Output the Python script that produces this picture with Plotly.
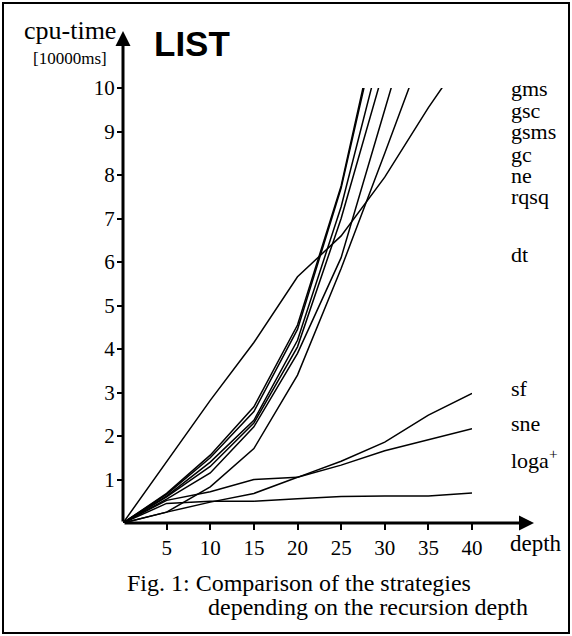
import plotly.graph_objects as go

depth = [0, 5, 10, 15, 20, 25, 30, 35, 40]

gms = [0, 0.68, 1.56, 2.67, 4.55, 7.75, 12.25]
gsc = [0, 0.66, 1.50, 2.56, 4.45, 7.70, 12.10]
gsms = [0, 0.62, 1.40, 2.36, 4.20, 7.27, 11.20]
gc = [0, 0.60, 1.30, 2.30, 4.05, 7.00, 10.50]
ne = [0, 0.55, 1.15, 2.21, 3.90, 6.10, 9.50, 12.90]
rqsq = [0, 0.25, 0.83, 1.71, 3.40, 5.85, 8.50, 11.20]
dt = [0, 1.40, 2.82, 4.15, 5.66, 6.60, 7.95, 9.55, 11.00]
sf = [0, 0.52, 0.72, 1.00, 1.05, 1.42, 1.86, 2.48, 2.98]
sne = [0, 0.25, 0.48, 0.68, 1.05, 1.33, 1.66, 1.92, 2.17]
loga = [0, 0.45, 0.50, 0.50, 0.56, 0.61, 0.62, 0.62, 0.69]

series = [gms, gsc, gsms, gc, ne, rqsq, dt, sf, sne, loga]
labels = ["gms", "gsc", "gsms", "gc", "ne", "rqsq", "dt", "sf", "sne", "loga<sup>+</sup>"]
label_y = [88, 110, 131, 154, 175, 196, 254, 388, 423, 459]  # pixel rows

xticks = [5, 10, 15, 20, 25, 30, 35, 40]
yticks = [1, 2, 3, 4, 5, 6, 7, 8, 9, 10]

W, H = 572, 636
L, R, T, B = 123, 100, 88, 113
PW, PH = W - L - R, H - T - B

def px(xp):
    return (xp - L) / PW

def py(yp):
    return (H - B - yp) / PH

serif = "Liberation Serif"

fig = go.Figure()
for s in series:
    fig.add_trace(go.Scatter(x=depth[:len(s)], y=s, mode="lines",
                             line=dict(color="black", width=1.5),
                             showlegend=False, hoverinfo="skip"))

fig.update_layout(
    width=W, height=H,
    margin=dict(l=L, r=R, t=T, b=B),
    paper_bgcolor="white", plot_bgcolor="white",
    font=dict(family=serif, color="black"),
    xaxis=dict(range=[0, 40], tickvals=xticks, ticktext=[str(v) for v in xticks],
               ticks="outside", ticklen=6, tickwidth=2, tickcolor="black",
               showgrid=False, zeroline=False, showline=False,
               tickfont=dict(family=serif, size=21, color="black")),
    yaxis=dict(range=[0, 10], tickvals=yticks, ticktext=[str(v) for v in yticks],
               ticks="outside", ticklen=5, tickwidth=2, tickcolor="black",
               showgrid=False, zeroline=False, showline=False,
               ticklabelstandoff=-2,
               tickfont=dict(family=serif, size=21, color="black")),
)

ann = []
# axis arrows
ann.append(dict(xref="paper", yref="paper", x=px(534), y=0, ax=-(534 - L), ay=0,
                axref="pixel", ayref="pixel", showarrow=True, arrowhead=2,
                arrowsize=1, arrowwidth=3, arrowcolor="black", text=""))
ann.append(dict(xref="paper", yref="paper", x=0, y=py(31), ax=0, ay=(H - B - 31),
                axref="pixel", ayref="pixel", showarrow=True, arrowhead=2,
                arrowsize=1, arrowwidth=3, arrowcolor="black", text=""))

for lab, yy in zip(labels, label_y):
    ann.append(dict(xref="paper", yref="paper", x=px(509), y=py(yy), text=lab,
                    showarrow=False, xanchor="left", yanchor="middle",
                    font=dict(family=serif, size=22, color="black")))

ann.append(dict(xref="paper", yref="paper", x=px(508), y=py(543), text="depth",
                showarrow=False, xanchor="left", yanchor="middle",
                font=dict(family=serif, size=23, color="black")))
ann.append(dict(xref="paper", yref="paper", x=px(118), y=py(30), text="cpu-time",
                showarrow=False, xanchor="right", yanchor="middle",
                font=dict(family=serif, size=26, color="black")))
ann.append(dict(xref="paper", yref="paper", x=px(70), y=py(58), text="[10000ms]",
                showarrow=False, xanchor="center", yanchor="middle",
                font=dict(family=serif, size=17, color="black")))
ann.append(dict(xref="paper", yref="paper", x=px(152), y=py(43), text="<b>LIST</b>",
                showarrow=False, xanchor="left", yanchor="middle",
                font=dict(family="Liberation Sans", size=35, color="black")))
ann.append(dict(xref="paper", yref="paper", x=px(125), y=py(583),
                text="Fig. 1: Comparison of the strategies",
                showarrow=False, xanchor="left", yanchor="middle",
                font=dict(family=serif, size=24, color="black")))
ann.append(dict(xref="paper", yref="paper", x=px(206), y=py(607),
                text="depending on the recursion depth",
                showarrow=False, xanchor="left", yanchor="middle",
                font=dict(family=serif, size=24, color="black")))

fig.update_layout(annotations=ann)

fig.add_shape(type="rect", xref="paper", yref="paper",
              x0=px(3), x1=px(569), y0=py(633), y1=py(3),
              line=dict(color="black", width=2), fillcolor="rgba(0,0,0,0)")

fig.write_html("out.html", config={"displayModeBar": False},
               post_script="document.body.style.margin='0';")
